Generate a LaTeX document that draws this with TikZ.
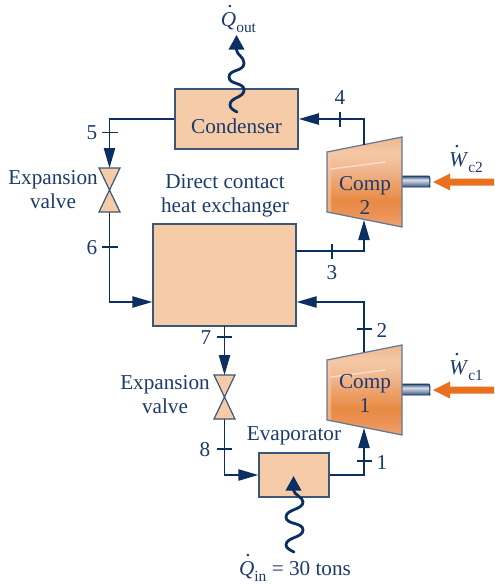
\documentclass[tikz,border=0pt]{standalone}
\usepackage{fontspec}
\setmainfont{Liberation Serif}
\usetikzlibrary{arrows.meta}
\definecolor{navy}{HTML}{0B2F62}
\definecolor{txt}{HTML}{1C3A6A}
\definecolor{peach}{HTML}{F6CBA8}
\definecolor{edgeb}{HTML}{3C5678}
\definecolor{orng}{HTML}{E8701F}
\definecolor{cA}{HTML}{F5C9A6}
\definecolor{cB}{HTML}{F0B68E}
\definecolor{cC}{HTML}{E98A45}
\definecolor{cD}{HTML}{EA9153}
\definecolor{cE}{HTML}{EDA272}
\pgfdeclareverticalshading{compshade}{100bp}{
 color(0bp)=(cE); color(25bp)=(cE); color(33bp)=(cD);
 color(40bp)=(cC); color(57bp)=(cB); color(66bp)=(cA); color(75bp)=(cB); color(100bp)=(cB)}
\pgfdeclareverticalshading{shaftshade}{100bp}{
 color(0bp)=(navy!80); color(25bp)=(navy!80); color(40bp)=(navy!50!white); color(58bp)=(navy!15!white); color(75bp)=(navy!85); color(100bp)=(navy!85)}
\newcommand{\dotit}[2]{\leavevmode\makebox[0pt][l]{\hspace{#1}\raisebox{.9em}[0pt][0pt]{\textup{.}}}\textit{#2}}
\newcommand{\subsc}[1]{\raisebox{-.28em}{\fontsize{11.6pt}{12pt}\selectfont #1}}
\tikzset{
  x=.75pt,y=-.75pt,
  lbl/.style={text=txt,font=\fontsize{15.9pt}{18pt}\selectfont,align=center,inner sep=0pt},
  unit/.style={draw=edgeb,fill=peach,line width=1.1pt,inner sep=0pt},
  pipe/.style={draw=navy,line width=1.1pt},
  flow/.style={pipe,-{Triangle[length=15pt,width=8.5pt]}},
  tick/.style={draw=navy,line width=.8pt},
  heat/.style={draw=navy,line width=2.1pt,line cap=round,-{Triangle[length=11pt,width=11.5pt]}},
  valveb/.style={draw=edgeb,fill=peach,line width=.9pt,line join=miter},
}
\begin{document}
\begin{tikzpicture}
\useasboundingbox (0,0) rectangle (494,585);
% units
\node[unit,minimum width=92.5pt,minimum height=45pt] (cond) at (236.5,119) {};
\node[unit,minimum width=107.25pt,minimum height=76.5pt] (hx) at (224.5,275) {};
\node[unit,minimum width=52.5pt,minimum height=33pt] (evap) at (294,475) {};
% junctions
\coordinate (j5) at (109.5,119);
\coordinate (v1t) at (109.5,168); \coordinate (v1b) at (109.5,212);
\coordinate (j6) at (109.5,302);
\coordinate (v2t) at (224.5,375); \coordinate (v2b) at (224.5,419);
\coordinate (j8) at (224.5,475);
\coordinate (c1in) at (364,428); \coordinate (c1out) at (364,352);
\coordinate (c2in) at (364,220); \coordinate (c2out) at (364,145);
\coordinate (j1) at (364,475); \coordinate (j2) at (364,302);
\coordinate (j3) at (364,251); \coordinate (j4) at (364,119);
\coordinate (hxout) at (296,251); \coordinate (hxbot) at (224.5,326);
% compressors
\foreach \dy in {0,208}{
 \begin{scope}[yshift=-\dy*.75pt]
  \shade[shading=shaftshade] (402,176) -- (429,176) .. controls (431,179) and (429,184) .. (430,187) -- (402,187) -- cycle;
  \draw[navy,line width=.7pt] (402,176) -- (429,176) .. controls (431,179) and (429,184) .. (430,187) -- (402,187);
  \shade[shading=compshade] (327,152) -- (402,137) -- (402,227) -- (327,212) -- cycle;
  \fill[peach,opacity=.55] (327,152) -- (331,151.5) -- (331,212.5) -- (327,212) -- cycle;
  \draw[white,opacity=.5,line width=1.1pt,line cap=round] (331,169) -- (385,162);
  \draw[edgeb!80,line width=.9pt] (327,152) -- (402,137) -- (402,227) -- (327,212) -- cycle;
  \fill[orng] (433,182) -- (450,173.5) -- (450,178.5) -- (494,178.5) -- (494,185.5) -- (450,185.5) -- (450,190.5) -- cycle;
 \end{scope}
}
% connectors
\draw[flow] (cond.west |- j5) -- (j5) -- (v1t);
\draw[flow] (v1b) -- (j6) -- (hx.west |- j6);
\draw[flow] (hxbot) -- (v2t);
\draw[flow] (v2b) -- (j8) -- (evap.west);
\draw[flow] (evap.east) -- (j1) -- (c1in);
\draw[flow] (c1out) -- (j2) -- (hx.east |- j2);
\draw[flow] (hxout) -- (j3) -- (c2in);
\draw[flow] (c2out) -- (j4) -- (cond.east |- j4);
% valves
\foreach \t/\b/\lx/\rx in {168/212/99/120,375/419/214/235}{
 \path[valveb,draw] (\lx,\t) -- (\rx,\t) -- (\lx,\b) -- (\rx,\b) -- cycle;
}
% ticks
\draw[tick] (102,132.5) -- (118,132.5);
\draw[tick] (102,247) -- (118,247);
\draw[tick] (217,337) -- (232,337);
\draw[tick] (217,449) -- (232,449);
\draw[tick] (357,461) -- (372,461);
\draw[tick] (357,329) -- (372,329);
\draw[tick] (332,244) -- (332,259);
\draw[tick] (340,112) -- (340,127);
% heat
\coordinate (qo0) at (237,112); \coordinate (qo1) at (236.5,35);
\draw[heat] (qo0) .. controls (233,110) and (230,108) .. (230,105)
  .. controls (230,97) and (244,98) .. (244,90)
  .. controls (244,82) and (229,85) .. (229,77)
  .. controls (229,69) and (244,72) .. (244,63)
  .. controls (244,57) and (237,55) .. (236.5,50) -- (qo1);
\coordinate (qi0) at (294,552); \coordinate (qi1) at (293.5,476);
\draw[heat] (qi0) .. controls (290,550) and (286,548) .. (286,545)
  .. controls (286,537) and (303,538) .. (303,530)
  .. controls (303,522) and (286,525) .. (286,517)
  .. controls (286,509) and (303,510) .. (303,502)
  .. controls (303,497) and (294,495) .. (293.5,490) -- (qi1);
% labels
\node[lbl] (condl) at (236.5,126) {Condenser};
\node[lbl] (hxl) at (225,196) {Direct contact\\heat exchanger};
\node[lbl] (evl) at (294,436) {Evaporator};
\node[lbl] (v1l) at (53,190) {Expansion\\valve};
\node[lbl] (v2l) at (165,395) {Expansion\\valve};
\node[lbl] (c2l) at (365,195) {Comp\\2};
\node[lbl] (c1l) at (365,393) {Comp\\1};
\node[lbl] (n5) at (92,133) {5};
\node[lbl] (n6) at (92,248) {6};
\node[lbl] (n7) at (206,338) {7};
\node[lbl] (n8) at (205,450) {8};
\node[lbl] (n1) at (382,462) {1};
\node[lbl] (n2) at (382,330) {2};
\node[lbl] (n3) at (332,273) {3};
\node[lbl] (n4) at (340,98) {4};
\node[lbl] (qo) at (238.5,23) {\dotit{.3em}{Q}\subsc{out}};
\node[lbl] (qi) at (295,571) {\dotit{.3em}{Q}\subsc{in} = 30 tons};
\node[lbl] (w2) at (466,163) {\dotit{.25em}{W}\subsc{c2}};
\node[lbl] (w1) at (466,371) {\dotit{.25em}{W}\subsc{c1}};
\end{tikzpicture}
\end{document}
